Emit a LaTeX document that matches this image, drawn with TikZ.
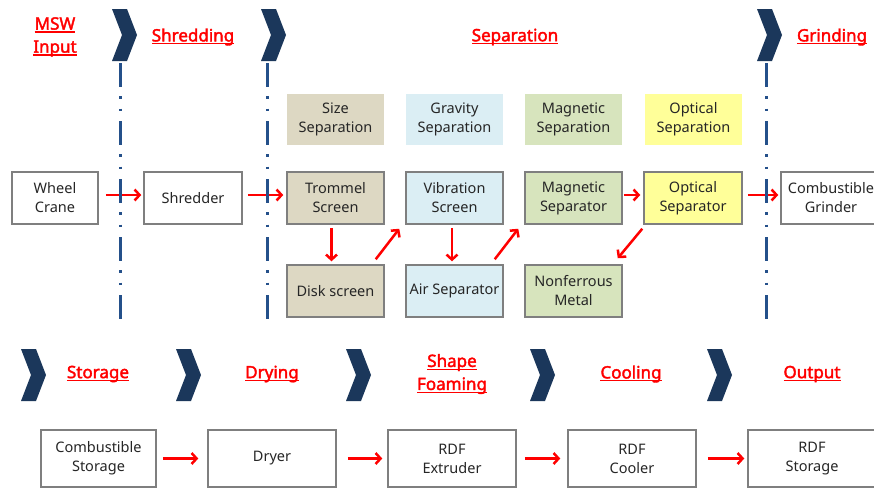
\documentclass[tikz,border=0pt]{standalone}
\usepackage{fontspec}
\setmainfont{Noto Sans}
\newfontfamily\headfont{Noto Sans}[FakeBold=2.2]
\usetikzlibrary{arrows.meta}

\definecolor{chevblue}{HTML}{1B375B}
\definecolor{lineblue}{HTML}{24508A}
\definecolor{boxgray}{HTML}{7F7F7F}
\definecolor{txtgray}{HTML}{262626}
\definecolor{sizefill}{HTML}{DDD8C3}
\definecolor{gravfill}{HTML}{DBEEF4}
\definecolor{magfill}{HTML}{D7E4BD}
\definecolor{optfill}{HTML}{FFFF99}

% underline at a fixed depth
\newcommand{\ulword}[1]{\setbox0\hbox{#1}\rlap{\rule[-3pt]{\wd0}{1.4pt}}\box0}

\begin{document}
\begin{tikzpicture}[
    x=1pt, y=-1pt,
    every node/.style={font=\fontsize{14.5}{19}\selectfont, text=txtgray, align=center},
    proc/.style={rectangle, draw=boxgray, line width=1.5pt, fill=white, minimum width=97pt, minimum height=52pt, inner sep=0pt},
    cat/.style={rectangle, minimum width=97pt, minimum height=51pt, inner sep=0pt},
    stage/.style={font=\headfont\fontsize{17}{23}\selectfont, text=red},
    flow/.style={-{Straight Barb[length=5pt,width=11pt]}, red, line width=2.5pt},
    chev/.style={fill=chevblue},
    divider/.style={lineblue, line width=3pt, dash pattern=on 24pt off 9pt on 2.5pt off 10pt on 2.5pt off 10pt}
]
\clip (0,0) rectangle (874,488);

% stage headings
\node[stage] (h_input) at (55,37) {\ulword{MSW}\\\ulword{Input}};
\node[stage] (h_shred) at (193,37) {\ulword{Shredding}};
\node[stage] (h_sep) at (515,37) {\ulword{Separation}};
\node[stage] (h_grind) at (832,37) {\ulword{Grinding}};
\node[stage] (h_store) at (98,374) {\ulword{Storage}};
\node[stage] (h_dry) at (272,374) {\ulword{Drying}};
\node[stage] (h_shape) at (452,374) {\ulword{Shape}\\\ulword{Foaming}};
\node[stage] (h_cool) at (631,374) {\ulword{Cooling}};
\node[stage] (h_out) at (812,374) {\ulword{Output}};

% chevrons between stages
\foreach \cx/\cy in {112/9, 261/9, 757/9, 21/349, 176/349, 346/349, 530/349, 707/349}
    \fill[chev] (\cx,\cy) -- ++(15,0) -- ++(10,26) -- ++(-10,26) -- ++(-15,0) -- ++(10,-26) -- cycle;

% separation categories
\node[cat, fill=sizefill] (sizecat) at (335.5,119.5) {Size\\Separation};
\node[cat, fill=gravfill] (gravcat) at (454.5,119.5) {Gravity\\Separation};
\node[cat, fill=magfill] (magcat) at (573.5,119.5) {Magnetic\\Separation};
\node[cat, fill=optfill] (optcat) at (693.5,119.5) {Optical\\Separation};

% main line
\node[proc, minimum width=86pt] (wheel) at (55,198) {Wheel\\Crane};
\node[proc, minimum width=98pt] (shredder) at (193,198) {Shredder};
\node[proc, fill=sizefill] (trommel) at (335.5,198) {Trommel\\Screen};
\node[proc, fill=gravfill] (vibration) at (454.5,198) {Vibration\\Screen};
\node[proc, fill=magfill] (magsep) at (573.5,198) {Magnetic\\Separator};
\node[proc, fill=optfill, minimum width=98pt] (optsep) at (693,198) {Optical\\Separator};
\node[proc, minimum width=100pt] (grinder) at (831,198) {Combustible\\Grinder};

% second row
\node[proc, fill=sizefill] (disk) at (335.5,291) {Disk screen};
\node[proc, fill=gravfill] (air) at (454.5,291) {Air Separator};
\node[proc, fill=magfill] (nonfer) at (573.5,291) {Nonferrous\\Metal};

% bottom line
\node[proc, minimum width=115pt, minimum height=57pt] (cstorage) at (98.5,458.5) {Combustible\\Storage};
\node[proc, minimum width=128pt, minimum height=57pt] (dryer) at (272,458.5) {Dryer};
\node[proc, minimum width=128pt, minimum height=57pt] (extruder) at (452,458.5) {RDF\\Extruder};
\node[proc, minimum width=128pt, minimum height=57pt] (cooler) at (632,458.5) {RDF\\Cooler};
\node[proc, minimum width=128pt, minimum height=57pt] (rdfstore) at (812,458.5) {RDF\\Storage};

% material flow
\draw[flow, shorten <=7pt, shorten >=2pt] ([yshift=3pt]wheel.east) -- ([yshift=3pt]shredder.west);
\draw[flow, shorten <=5pt, shorten >=3pt] ([yshift=3pt]shredder.east) -- ([yshift=3pt]trommel.west);
\draw[flow, shorten <=3pt, shorten >=3pt] ([xshift=-4pt]trommel.south) -- ([xshift=-4pt]disk.north);
\draw[flow] ([shift={(-9pt,5pt)}]disk.north east) -- ([shift={(-6pt,-4pt)}]vibration.south west);
\draw[flow, shorten <=3pt, shorten >=3pt] ([xshift=-2.5pt]vibration.south) -- ([xshift=-2.5pt]air.north);
\draw[flow] ([shift={(-9pt,5pt)}]air.north east) -- ([shift={(-6pt,-4pt)}]magsep.south west);
\draw[flow, shorten <=1pt, shorten >=3pt] ([yshift=3pt]magsep.east) -- ([yshift=3pt]optsep.west);
\draw[flow] ([shift={(-1pt,-4pt)}]optsep.south west) -- ([shift={(-5pt,6pt)}]nonfer.north east);
\draw[flow, shorten <=5pt, shorten >=2pt] ([yshift=3pt]optsep.east) -- ([yshift=3pt]grinder.west);
\draw[flow, shorten <=6pt, shorten >=9pt] (cstorage.east) -- (dryer.west);
\draw[flow, shorten <=11pt, shorten >=5pt] (dryer.east) -- (extruder.west);
\draw[flow, shorten <=8pt, shorten >=7pt] (extruder.east) -- (cooler.west);
\draw[flow, shorten <=11pt, shorten >=3pt] (cooler.east) -- (rdfstore.west);

% stage boundaries
\foreach \lx in {120, 267, 766}
    \draw[divider] (\lx,63) -- (\lx,320);

\end{tikzpicture}
\end{document}
